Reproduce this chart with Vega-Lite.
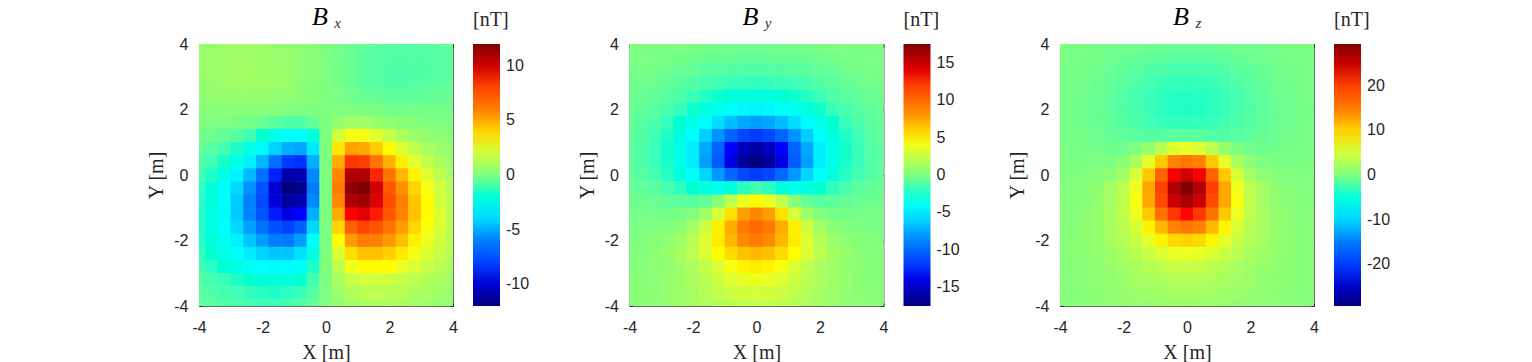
{"$schema":"https://vega.github.io/schema/vega-lite/v6.json","background":"white","padding":{"left":146,"top":3,"right":0,"bottom":0},"bounds":"flush","spacing":176.5,"resolve":{"scale":{"color":"independent"}},"config":{"view":{"stroke":"#6e6e6e","strokeWidth":1},"axis":{"domain":false,"grid":false,"tickColor":"#262626","tickSize":-3,"labelColor":"#262626","labelFont":"Liberation Sans","labelFontSize":16,"titleColor":"#262626","titleFont":"Liberation Serif","titleFontSize":20,"titleFontWeight":"normal"},"legend":{"titleFont":"Liberation Serif","titleFontSize":20,"titleFontWeight":"normal","titleColor":"#262626","labelFont":"Liberation Sans","labelFontSize":16,"labelColor":"#262626"},"title":{"font":"Liberation Serif","fontStyle":"italic","fontWeight":"normal","fontSize":26,"color":"#000000","offset":-20,"anchor":"middle"}},"datasets":{"bx":[
{"x":-4,"y":4,"v":0.5},{"x":-3.6,"y":4,"v":0.6},{"x":-3.2,"y":4,"v":0.7},{"x":-2.8,"y":4,"v":0.8},{"x":-2.4,"y":4,"v":0.8},{"x":-2,"y":4,"v":0.7},{"x":-1.6,"y":4,"v":0.6},{"x":-1.2,"y":4,"v":0.5},{"x":-0.8,"y":4,"v":0.4},{"x":-0.4,"y":4,"v":0.2},{"x":0,"y":4,"v":0},{"x":0.4,"y":4,"v":-0.2},{"x":0.8,"y":4,"v":-0.4},{"x":1.2,"y":4,"v":-0.5},{"x":1.6,"y":4,"v":-0.6},{"x":2,"y":4,"v":-0.7},{"x":2.4,"y":4,"v":-0.8},{"x":2.8,"y":4,"v":-0.8},{"x":3.2,"y":4,"v":-0.7},{"x":3.6,"y":4,"v":-0.6},{"x":4,"y":4,"v":-0.5},
{"x":-4,"y":3.6,"v":0.6},{"x":-3.6,"y":3.6,"v":0.7},{"x":-3.2,"y":3.6,"v":0.8},{"x":-2.8,"y":3.6,"v":0.8},{"x":-2.4,"y":3.6,"v":0.8},{"x":-2,"y":3.6,"v":0.8},{"x":-1.6,"y":3.6,"v":0.7},{"x":-1.2,"y":3.6,"v":0.6},{"x":-0.8,"y":3.6,"v":0.4},{"x":-0.4,"y":3.6,"v":0.2},{"x":0,"y":3.6,"v":0},{"x":0.4,"y":3.6,"v":-0.2},{"x":0.8,"y":3.6,"v":-0.4},{"x":1.2,"y":3.6,"v":-0.6},{"x":1.6,"y":3.6,"v":-0.7},{"x":2,"y":3.6,"v":-0.8},{"x":2.4,"y":3.6,"v":-0.8},{"x":2.8,"y":3.6,"v":-0.8},{"x":3.2,"y":3.6,"v":-0.8},{"x":3.6,"y":3.6,"v":-0.7},{"x":4,"y":3.6,"v":-0.6},
{"x":-4,"y":3.2,"v":0.6},{"x":-3.6,"y":3.2,"v":0.7},{"x":-3.2,"y":3.2,"v":0.8},{"x":-2.8,"y":3.2,"v":0.9},{"x":-2.4,"y":3.2,"v":0.9},{"x":-2,"y":3.2,"v":0.8},{"x":-1.6,"y":3.2,"v":0.7},{"x":-1.2,"y":3.2,"v":0.6},{"x":-0.8,"y":3.2,"v":0.4},{"x":-0.4,"y":3.2,"v":0.2},{"x":0,"y":3.2,"v":0},{"x":0.4,"y":3.2,"v":-0.2},{"x":0.8,"y":3.2,"v":-0.4},{"x":1.2,"y":3.2,"v":-0.6},{"x":1.6,"y":3.2,"v":-0.7},{"x":2,"y":3.2,"v":-0.8},{"x":2.4,"y":3.2,"v":-0.9},{"x":2.8,"y":3.2,"v":-0.9},{"x":3.2,"y":3.2,"v":-0.8},{"x":3.6,"y":3.2,"v":-0.7},{"x":4,"y":3.2,"v":-0.6},
{"x":-4,"y":2.8,"v":0.5},{"x":-3.6,"y":2.8,"v":0.6},{"x":-3.2,"y":2.8,"v":0.7},{"x":-2.8,"y":2.8,"v":0.8},{"x":-2.4,"y":2.8,"v":0.8},{"x":-2,"y":2.8,"v":0.8},{"x":-1.6,"y":2.8,"v":0.7},{"x":-1.2,"y":2.8,"v":0.6},{"x":-0.8,"y":2.8,"v":0.4},{"x":-0.4,"y":2.8,"v":0.2},{"x":0,"y":2.8,"v":0},{"x":0.4,"y":2.8,"v":-0.2},{"x":0.8,"y":2.8,"v":-0.4},{"x":1.2,"y":2.8,"v":-0.6},{"x":1.6,"y":2.8,"v":-0.7},{"x":2,"y":2.8,"v":-0.8},{"x":2.4,"y":2.8,"v":-0.8},{"x":2.8,"y":2.8,"v":-0.8},{"x":3.2,"y":2.8,"v":-0.7},{"x":3.6,"y":2.8,"v":-0.6},{"x":4,"y":2.8,"v":-0.5},
{"x":-4,"y":2.4,"v":0.4},{"x":-3.6,"y":2.4,"v":0.5},{"x":-3.2,"y":2.4,"v":0.5},{"x":-2.8,"y":2.4,"v":0.6},{"x":-2.4,"y":2.4,"v":0.6},{"x":-2,"y":2.4,"v":0.6},{"x":-1.6,"y":2.4,"v":0.5},{"x":-1.2,"y":2.4,"v":0.4},{"x":-0.8,"y":2.4,"v":0.3},{"x":-0.4,"y":2.4,"v":0.1},{"x":0,"y":2.4,"v":0},{"x":0.4,"y":2.4,"v":-0.1},{"x":0.8,"y":2.4,"v":-0.3},{"x":1.2,"y":2.4,"v":-0.4},{"x":1.6,"y":2.4,"v":-0.5},{"x":2,"y":2.4,"v":-0.6},{"x":2.4,"y":2.4,"v":-0.6},{"x":2.8,"y":2.4,"v":-0.6},{"x":3.2,"y":2.4,"v":-0.5},{"x":3.6,"y":2.4,"v":-0.5},{"x":4,"y":2.4,"v":-0.4},
{"x":-4,"y":2,"v":0.2},{"x":-3.6,"y":2,"v":0.2},{"x":-3.2,"y":2,"v":0.2},{"x":-2.8,"y":2,"v":0.2},{"x":-2.4,"y":2,"v":0.2},{"x":-2,"y":2,"v":0.2},{"x":-1.6,"y":2,"v":0.1},{"x":-1.2,"y":2,"v":0.1},{"x":-0.8,"y":2,"v":0},{"x":-0.4,"y":2,"v":0},{"x":0,"y":2,"v":0},{"x":0.4,"y":2,"v":0},{"x":0.8,"y":2,"v":0},{"x":1.2,"y":2,"v":-0.1},{"x":1.6,"y":2,"v":-0.1},{"x":2,"y":2,"v":-0.2},{"x":2.4,"y":2,"v":-0.2},{"x":2.8,"y":2,"v":-0.2},{"x":3.2,"y":2,"v":-0.2},{"x":3.6,"y":2,"v":-0.2},{"x":4,"y":2,"v":-0.2},
{"x":-4,"y":1.6,"v":0},{"x":-3.6,"y":1.6,"v":0},{"x":-3.2,"y":1.6,"v":0},{"x":-2.8,"y":1.6,"v":-0.1},{"x":-2.4,"y":1.6,"v":-0.2},{"x":-2,"y":1.6,"v":-0.4},{"x":-1.6,"y":1.6,"v":-0.6},{"x":-1.2,"y":1.6,"v":-0.8},{"x":-0.8,"y":1.6,"v":-0.8},{"x":-0.4,"y":1.6,"v":-0.5},{"x":0,"y":1.6,"v":0},{"x":0.4,"y":1.6,"v":0.5},{"x":0.8,"y":1.6,"v":0.8},{"x":1.2,"y":1.6,"v":0.8},{"x":1.6,"y":1.6,"v":0.6},{"x":2,"y":1.6,"v":0.4},{"x":2.4,"y":1.6,"v":0.2},{"x":2.8,"y":1.6,"v":0.1},{"x":3.2,"y":1.6,"v":0},{"x":3.6,"y":1.6,"v":0},{"x":4,"y":1.6,"v":0},
{"x":-4,"y":1.2,"v":-0.2},{"x":-3.6,"y":1.2,"v":-0.3},{"x":-3.2,"y":1.2,"v":-0.5},{"x":-2.8,"y":1.2,"v":-0.7},{"x":-2.4,"y":1.2,"v":-1.1},{"x":-2,"y":1.2,"v":-1.7},{"x":-1.6,"y":1.2,"v":-2.3},{"x":-1.2,"y":1.2,"v":-2.8},{"x":-0.8,"y":1.2,"v":-2.8},{"x":-0.4,"y":1.2,"v":-2},{"x":0,"y":1.2,"v":0},{"x":0.4,"y":1.2,"v":2},{"x":0.8,"y":1.2,"v":2.8},{"x":1.2,"y":1.2,"v":2.8},{"x":1.6,"y":1.2,"v":2.3},{"x":2,"y":1.2,"v":1.7},{"x":2.4,"y":1.2,"v":1.1},{"x":2.8,"y":1.2,"v":0.7},{"x":3.2,"y":1.2,"v":0.5},{"x":3.6,"y":1.2,"v":0.3},{"x":4,"y":1.2,"v":0.2},
{"x":-4,"y":0.8,"v":-0.5},{"x":-3.6,"y":0.8,"v":-0.7},{"x":-3.2,"y":0.8,"v":-1},{"x":-2.8,"y":0.8,"v":-1.5},{"x":-2.4,"y":0.8,"v":-2.2},{"x":-2,"y":0.8,"v":-3.1},{"x":-1.6,"y":0.8,"v":-4.2},{"x":-1.2,"y":0.8,"v":-5},{"x":-0.8,"y":0.8,"v":-5.2},{"x":-0.4,"y":0.8,"v":-3.6},{"x":0,"y":0.8,"v":0},{"x":0.4,"y":0.8,"v":3.6},{"x":0.8,"y":0.8,"v":5.2},{"x":1.2,"y":0.8,"v":5},{"x":1.6,"y":0.8,"v":4.2},{"x":2,"y":0.8,"v":3.1},{"x":2.4,"y":0.8,"v":2.2},{"x":2.8,"y":0.8,"v":1.5},{"x":3.2,"y":0.8,"v":1},{"x":3.6,"y":0.8,"v":0.7},{"x":4,"y":0.8,"v":0.5},
{"x":-4,"y":0.4,"v":-0.7},{"x":-3.6,"y":0.4,"v":-1.1},{"x":-3.2,"y":0.4,"v":-1.6},{"x":-2.8,"y":0.4,"v":-2.3},{"x":-2.4,"y":0.4,"v":-3.4},{"x":-2,"y":0.4,"v":-4.8},{"x":-1.6,"y":0.4,"v":-6.5},{"x":-1.2,"y":0.4,"v":-8.2},{"x":-0.8,"y":0.4,"v":-8.4},{"x":-0.4,"y":0.4,"v":-5},{"x":0,"y":0.4,"v":0},{"x":0.4,"y":0.4,"v":5},{"x":0.8,"y":0.4,"v":8.4},{"x":1.2,"y":0.4,"v":8.2},{"x":1.6,"y":0.4,"v":6.5},{"x":2,"y":0.4,"v":4.8},{"x":2.4,"y":0.4,"v":3.4},{"x":2.8,"y":0.4,"v":2.3},{"x":3.2,"y":0.4,"v":1.6},{"x":3.6,"y":0.4,"v":1.1},{"x":4,"y":0.4,"v":0.7},
{"x":-4,"y":0,"v":-1},{"x":-3.6,"y":0,"v":-1.5},{"x":-3.2,"y":0,"v":-2.3},{"x":-2.8,"y":0,"v":-3.3},{"x":-2.4,"y":0,"v":-4.7},{"x":-2,"y":0,"v":-6.5},{"x":-1.6,"y":0,"v":-8.7},{"x":-1.2,"y":0,"v":-10.8},{"x":-0.8,"y":0,"v":-10.8},{"x":-0.4,"y":0,"v":-5.8},{"x":0,"y":0,"v":0},{"x":0.4,"y":0,"v":5.8},{"x":0.8,"y":0,"v":10.8},{"x":1.2,"y":0,"v":10.8},{"x":1.6,"y":0,"v":8.7},{"x":2,"y":0,"v":6.5},{"x":2.4,"y":0,"v":4.7},{"x":2.8,"y":0,"v":3.3},{"x":3.2,"y":0,"v":2.3},{"x":3.6,"y":0,"v":1.5},{"x":4,"y":0,"v":1},
{"x":-4,"y":-0.4,"v":-1.3},{"x":-3.6,"y":-0.4,"v":-1.9},{"x":-3.2,"y":-0.4,"v":-2.8},{"x":-2.8,"y":-0.4,"v":-4},{"x":-2.4,"y":-0.4,"v":-5.6},{"x":-2,"y":-0.4,"v":-7.5},{"x":-1.6,"y":-0.4,"v":-10},{"x":-1.2,"y":-0.4,"v":-12},{"x":-0.8,"y":-0.4,"v":-11.6},{"x":-0.4,"y":-0.4,"v":-6.2},{"x":0,"y":-0.4,"v":0},{"x":0.4,"y":-0.4,"v":6.2},{"x":0.8,"y":-0.4,"v":11.6},{"x":1.2,"y":-0.4,"v":12},{"x":1.6,"y":-0.4,"v":10},{"x":2,"y":-0.4,"v":7.5},{"x":2.4,"y":-0.4,"v":5.6},{"x":2.8,"y":-0.4,"v":4},{"x":3.2,"y":-0.4,"v":2.8},{"x":3.6,"y":-0.4,"v":1.9},{"x":4,"y":-0.4,"v":1.3},
{"x":-4,"y":-0.8,"v":-1.4},{"x":-3.6,"y":-0.8,"v":-2},{"x":-3.2,"y":-0.8,"v":-3},{"x":-2.8,"y":-0.8,"v":-4.4},{"x":-2.4,"y":-0.8,"v":-6},{"x":-2,"y":-0.8,"v":-7.8},{"x":-1.6,"y":-0.8,"v":-9.8},{"x":-1.2,"y":-0.8,"v":-11.2},{"x":-0.8,"y":-0.8,"v":-10.8},{"x":-0.4,"y":-0.8,"v":-5.8},{"x":0,"y":-0.8,"v":0},{"x":0.4,"y":-0.8,"v":5.8},{"x":0.8,"y":-0.8,"v":10.8},{"x":1.2,"y":-0.8,"v":11.2},{"x":1.6,"y":-0.8,"v":9.8},{"x":2,"y":-0.8,"v":7.8},{"x":2.4,"y":-0.8,"v":6},{"x":2.8,"y":-0.8,"v":4.4},{"x":3.2,"y":-0.8,"v":3},{"x":3.6,"y":-0.8,"v":2},{"x":4,"y":-0.8,"v":1.4},
{"x":-4,"y":-1.2,"v":-1.5},{"x":-3.6,"y":-1.2,"v":-2.2},{"x":-3.2,"y":-1.2,"v":-3.1},{"x":-2.8,"y":-1.2,"v":-4.4},{"x":-2.4,"y":-1.2,"v":-5.9},{"x":-2,"y":-1.2,"v":-7.5},{"x":-1.6,"y":-1.2,"v":-8.8},{"x":-1.2,"y":-1.2,"v":-9.6},{"x":-0.8,"y":-1.2,"v":-9},{"x":-0.4,"y":-1.2,"v":-5},{"x":0,"y":-1.2,"v":0},{"x":0.4,"y":-1.2,"v":5},{"x":0.8,"y":-1.2,"v":9},{"x":1.2,"y":-1.2,"v":9.6},{"x":1.6,"y":-1.2,"v":8.8},{"x":2,"y":-1.2,"v":7.5},{"x":2.4,"y":-1.2,"v":5.9},{"x":2.8,"y":-1.2,"v":4.4},{"x":3.2,"y":-1.2,"v":3.1},{"x":3.6,"y":-1.2,"v":2.2},{"x":4,"y":-1.2,"v":1.5},
{"x":-4,"y":-1.6,"v":-1.5},{"x":-3.6,"y":-1.6,"v":-2.1},{"x":-3.2,"y":-1.6,"v":-2.9},{"x":-2.8,"y":-1.6,"v":-4},{"x":-2.4,"y":-1.6,"v":-5.3},{"x":-2,"y":-1.6,"v":-6.5},{"x":-1.6,"y":-1.6,"v":-7.6},{"x":-1.2,"y":-1.6,"v":-8},{"x":-0.8,"y":-1.6,"v":-7.2},{"x":-0.4,"y":-1.6,"v":-4},{"x":0,"y":-1.6,"v":0},{"x":0.4,"y":-1.6,"v":4},{"x":0.8,"y":-1.6,"v":7.2},{"x":1.2,"y":-1.6,"v":8},{"x":1.6,"y":-1.6,"v":7.6},{"x":2,"y":-1.6,"v":6.5},{"x":2.4,"y":-1.6,"v":5.3},{"x":2.8,"y":-1.6,"v":4},{"x":3.2,"y":-1.6,"v":2.9},{"x":3.6,"y":-1.6,"v":2.1},{"x":4,"y":-1.6,"v":1.5},
{"x":-4,"y":-2,"v":-1.4},{"x":-3.6,"y":-2,"v":-1.9},{"x":-3.2,"y":-2,"v":-2.6},{"x":-2.8,"y":-2,"v":-3.4},{"x":-2.4,"y":-2,"v":-4.5},{"x":-2,"y":-2,"v":-5.4},{"x":-1.6,"y":-2,"v":-6.1},{"x":-1.2,"y":-2,"v":-6.2},{"x":-0.8,"y":-2,"v":-5.4},{"x":-0.4,"y":-2,"v":-3},{"x":0,"y":-2,"v":0},{"x":0.4,"y":-2,"v":3},{"x":0.8,"y":-2,"v":5.4},{"x":1.2,"y":-2,"v":6.2},{"x":1.6,"y":-2,"v":6.1},{"x":2,"y":-2,"v":5.4},{"x":2.4,"y":-2,"v":4.5},{"x":2.8,"y":-2,"v":3.4},{"x":3.2,"y":-2,"v":2.6},{"x":3.6,"y":-2,"v":1.9},{"x":4,"y":-2,"v":1.4},
{"x":-4,"y":-2.4,"v":-1.2},{"x":-3.6,"y":-2.4,"v":-1.7},{"x":-3.2,"y":-2.4,"v":-2.2},{"x":-2.8,"y":-2.4,"v":-2.8},{"x":-2.4,"y":-2.4,"v":-3.5},{"x":-2,"y":-2.4,"v":-4.1},{"x":-1.6,"y":-2.4,"v":-4.5},{"x":-1.2,"y":-2.4,"v":-4.5},{"x":-0.8,"y":-2.4,"v":-3.8},{"x":-0.4,"y":-2.4,"v":-2.2},{"x":0,"y":-2.4,"v":0},{"x":0.4,"y":-2.4,"v":2.2},{"x":0.8,"y":-2.4,"v":3.8},{"x":1.2,"y":-2.4,"v":4.5},{"x":1.6,"y":-2.4,"v":4.5},{"x":2,"y":-2.4,"v":4.1},{"x":2.4,"y":-2.4,"v":3.5},{"x":2.8,"y":-2.4,"v":2.8},{"x":3.2,"y":-2.4,"v":2.2},{"x":3.6,"y":-2.4,"v":1.7},{"x":4,"y":-2.4,"v":1.2},
{"x":-4,"y":-2.8,"v":-1},{"x":-3.6,"y":-2.8,"v":-1.4},{"x":-3.2,"y":-2.8,"v":-1.8},{"x":-2.8,"y":-2.8,"v":-2.2},{"x":-2.4,"y":-2.8,"v":-2.6},{"x":-2,"y":-2.8,"v":-3},{"x":-1.6,"y":-2.8,"v":-3.1},{"x":-1.2,"y":-2.8,"v":-3.1},{"x":-0.8,"y":-2.8,"v":-2.7},{"x":-0.4,"y":-2.8,"v":-1.5},{"x":0,"y":-2.8,"v":0},{"x":0.4,"y":-2.8,"v":1.5},{"x":0.8,"y":-2.8,"v":2.7},{"x":1.2,"y":-2.8,"v":3.1},{"x":1.6,"y":-2.8,"v":3.1},{"x":2,"y":-2.8,"v":3},{"x":2.4,"y":-2.8,"v":2.6},{"x":2.8,"y":-2.8,"v":2.2},{"x":3.2,"y":-2.8,"v":1.8},{"x":3.6,"y":-2.8,"v":1.4},{"x":4,"y":-2.8,"v":1},
{"x":-4,"y":-3.2,"v":-0.8},{"x":-3.6,"y":-3.2,"v":-1},{"x":-3.2,"y":-3.2,"v":-1.2},{"x":-2.8,"y":-3.2,"v":-1.5},{"x":-2.4,"y":-3.2,"v":-1.7},{"x":-2,"y":-3.2,"v":-1.9},{"x":-1.6,"y":-3.2,"v":-2},{"x":-1.2,"y":-3.2,"v":-2},{"x":-0.8,"y":-3.2,"v":-1.7},{"x":-0.4,"y":-3.2,"v":-1},{"x":0,"y":-3.2,"v":0},{"x":0.4,"y":-3.2,"v":1},{"x":0.8,"y":-3.2,"v":1.7},{"x":1.2,"y":-3.2,"v":2},{"x":1.6,"y":-3.2,"v":2},{"x":2,"y":-3.2,"v":1.9},{"x":2.4,"y":-3.2,"v":1.7},{"x":2.8,"y":-3.2,"v":1.5},{"x":3.2,"y":-3.2,"v":1.2},{"x":3.6,"y":-3.2,"v":1},{"x":4,"y":-3.2,"v":0.8},
{"x":-4,"y":-3.6,"v":-0.6},{"x":-3.6,"y":-3.6,"v":-0.8},{"x":-3.2,"y":-3.6,"v":-1},{"x":-2.8,"y":-3.6,"v":-1.1},{"x":-2.4,"y":-3.6,"v":-1.3},{"x":-2,"y":-3.6,"v":-1.4},{"x":-1.6,"y":-3.6,"v":-1.5},{"x":-1.2,"y":-3.6,"v":-1.4},{"x":-0.8,"y":-3.6,"v":-1.2},{"x":-0.4,"y":-3.6,"v":-0.7},{"x":0,"y":-3.6,"v":0},{"x":0.4,"y":-3.6,"v":0.7},{"x":0.8,"y":-3.6,"v":1.2},{"x":1.2,"y":-3.6,"v":1.4},{"x":1.6,"y":-3.6,"v":1.5},{"x":2,"y":-3.6,"v":1.4},{"x":2.4,"y":-3.6,"v":1.3},{"x":2.8,"y":-3.6,"v":1.1},{"x":3.2,"y":-3.6,"v":1},{"x":3.6,"y":-3.6,"v":0.8},{"x":4,"y":-3.6,"v":0.6},
{"x":-4,"y":-4,"v":-0.5},{"x":-3.6,"y":-4,"v":-0.6},{"x":-3.2,"y":-4,"v":-0.8},{"x":-2.8,"y":-4,"v":-0.9},{"x":-2.4,"y":-4,"v":-1},{"x":-2,"y":-4,"v":-1.1},{"x":-1.6,"y":-4,"v":-1.1},{"x":-1.2,"y":-4,"v":-1},{"x":-0.8,"y":-4,"v":-0.8},{"x":-0.4,"y":-4,"v":-0.5},{"x":0,"y":-4,"v":0},{"x":0.4,"y":-4,"v":0.5},{"x":0.8,"y":-4,"v":0.8},{"x":1.2,"y":-4,"v":1},{"x":1.6,"y":-4,"v":1.1},{"x":2,"y":-4,"v":1.1},{"x":2.4,"y":-4,"v":1},{"x":2.8,"y":-4,"v":0.9},{"x":3.2,"y":-4,"v":0.8},{"x":3.6,"y":-4,"v":0.6},{"x":4,"y":-4,"v":0.5}
],"by":[
{"x":-4,"y":4,"v":0},{"x":-3.6,"y":4,"v":0},{"x":-3.2,"y":4,"v":0},{"x":-2.8,"y":4,"v":0},{"x":-2.4,"y":4,"v":0},{"x":-2,"y":4,"v":-0.1},{"x":-1.6,"y":4,"v":-0.2},{"x":-1.2,"y":4,"v":-0.2},{"x":-0.8,"y":4,"v":-0.3},{"x":-0.4,"y":4,"v":-0.3},{"x":0,"y":4,"v":-0.3},{"x":0.4,"y":4,"v":-0.3},{"x":0.8,"y":4,"v":-0.3},{"x":1.2,"y":4,"v":-0.2},{"x":1.6,"y":4,"v":-0.2},{"x":2,"y":4,"v":-0.1},{"x":2.4,"y":4,"v":0},{"x":2.8,"y":4,"v":0},{"x":3.2,"y":4,"v":0},{"x":3.6,"y":4,"v":0},{"x":4,"y":4,"v":0},
{"x":-4,"y":3.6,"v":-0.1},{"x":-3.6,"y":3.6,"v":-0.1},{"x":-3.2,"y":3.6,"v":-0.2},{"x":-2.8,"y":3.6,"v":-0.2},{"x":-2.4,"y":3.6,"v":-0.3},{"x":-2,"y":3.6,"v":-0.4},{"x":-1.6,"y":3.6,"v":-0.5},{"x":-1.2,"y":3.6,"v":-0.6},{"x":-0.8,"y":3.6,"v":-0.6},{"x":-0.4,"y":3.6,"v":-0.7},{"x":0,"y":3.6,"v":-0.7},{"x":0.4,"y":3.6,"v":-0.7},{"x":0.8,"y":3.6,"v":-0.6},{"x":1.2,"y":3.6,"v":-0.6},{"x":1.6,"y":3.6,"v":-0.5},{"x":2,"y":3.6,"v":-0.4},{"x":2.4,"y":3.6,"v":-0.3},{"x":2.8,"y":3.6,"v":-0.2},{"x":3.2,"y":3.6,"v":-0.2},{"x":3.6,"y":3.6,"v":-0.1},{"x":4,"y":3.6,"v":-0.1},
{"x":-4,"y":3.2,"v":-0.2},{"x":-3.6,"y":3.2,"v":-0.2},{"x":-3.2,"y":3.2,"v":-0.3},{"x":-2.8,"y":3.2,"v":-0.4},{"x":-2.4,"y":3.2,"v":-0.6},{"x":-2,"y":3.2,"v":-0.7},{"x":-1.6,"y":3.2,"v":-0.9},{"x":-1.2,"y":3.2,"v":-1},{"x":-0.8,"y":3.2,"v":-1.1},{"x":-0.4,"y":3.2,"v":-1.2},{"x":0,"y":3.2,"v":-1.2},{"x":0.4,"y":3.2,"v":-1.2},{"x":0.8,"y":3.2,"v":-1.1},{"x":1.2,"y":3.2,"v":-1},{"x":1.6,"y":3.2,"v":-0.9},{"x":2,"y":3.2,"v":-0.7},{"x":2.4,"y":3.2,"v":-0.6},{"x":2.8,"y":3.2,"v":-0.4},{"x":3.2,"y":3.2,"v":-0.3},{"x":3.6,"y":3.2,"v":-0.2},{"x":4,"y":3.2,"v":-0.2},
{"x":-4,"y":2.8,"v":-0.3},{"x":-3.6,"y":2.8,"v":-0.4},{"x":-3.2,"y":2.8,"v":-0.5},{"x":-2.8,"y":2.8,"v":-0.7},{"x":-2.4,"y":2.8,"v":-0.9},{"x":-2,"y":2.8,"v":-1.1},{"x":-1.6,"y":2.8,"v":-1.4},{"x":-1.2,"y":2.8,"v":-1.6},{"x":-0.8,"y":2.8,"v":-1.7},{"x":-0.4,"y":2.8,"v":-1.8},{"x":0,"y":2.8,"v":-1.9},{"x":0.4,"y":2.8,"v":-1.8},{"x":0.8,"y":2.8,"v":-1.7},{"x":1.2,"y":2.8,"v":-1.6},{"x":1.6,"y":2.8,"v":-1.4},{"x":2,"y":2.8,"v":-1.1},{"x":2.4,"y":2.8,"v":-0.9},{"x":2.8,"y":2.8,"v":-0.7},{"x":3.2,"y":2.8,"v":-0.5},{"x":3.6,"y":2.8,"v":-0.4},{"x":4,"y":2.8,"v":-0.3},
{"x":-4,"y":2.4,"v":-0.4},{"x":-3.6,"y":2.4,"v":-0.6},{"x":-3.2,"y":2.4,"v":-0.8},{"x":-2.8,"y":2.4,"v":-1},{"x":-2.4,"y":2.4,"v":-1.3},{"x":-2,"y":2.4,"v":-1.7},{"x":-1.6,"y":2.4,"v":-2.1},{"x":-1.2,"y":2.4,"v":-2.4},{"x":-0.8,"y":2.4,"v":-2.7},{"x":-0.4,"y":2.4,"v":-2.9},{"x":0,"y":2.4,"v":-3},{"x":0.4,"y":2.4,"v":-2.9},{"x":0.8,"y":2.4,"v":-2.7},{"x":1.2,"y":2.4,"v":-2.4},{"x":1.6,"y":2.4,"v":-2.1},{"x":2,"y":2.4,"v":-1.7},{"x":2.4,"y":2.4,"v":-1.3},{"x":2.8,"y":2.4,"v":-1},{"x":3.2,"y":2.4,"v":-0.8},{"x":3.6,"y":2.4,"v":-0.6},{"x":4,"y":2.4,"v":-0.4},
{"x":-4,"y":2,"v":-0.6},{"x":-3.6,"y":2,"v":-0.8},{"x":-3.2,"y":2,"v":-1},{"x":-2.8,"y":2,"v":-1.4},{"x":-2.4,"y":2,"v":-1.8},{"x":-2,"y":2,"v":-2.4},{"x":-1.6,"y":2,"v":-3},{"x":-1.2,"y":2,"v":-3.6},{"x":-0.8,"y":2,"v":-4.2},{"x":-0.4,"y":2,"v":-4.6},{"x":0,"y":2,"v":-4.8},{"x":0.4,"y":2,"v":-4.6},{"x":0.8,"y":2,"v":-4.2},{"x":1.2,"y":2,"v":-3.6},{"x":1.6,"y":2,"v":-3},{"x":2,"y":2,"v":-2.4},{"x":2.4,"y":2,"v":-1.8},{"x":2.8,"y":2,"v":-1.4},{"x":3.2,"y":2,"v":-1},{"x":3.6,"y":2,"v":-0.8},{"x":4,"y":2,"v":-0.6},
{"x":-4,"y":1.6,"v":-0.7},{"x":-3.6,"y":1.6,"v":-1},{"x":-3.2,"y":1.6,"v":-1.3},{"x":-2.8,"y":1.6,"v":-1.8},{"x":-2.4,"y":1.6,"v":-2.5},{"x":-2,"y":1.6,"v":-3.4},{"x":-1.6,"y":1.6,"v":-4.5},{"x":-1.2,"y":1.6,"v":-5.7},{"x":-0.8,"y":1.6,"v":-6.8},{"x":-0.4,"y":1.6,"v":-7.5},{"x":0,"y":1.6,"v":-7.8},{"x":0.4,"y":1.6,"v":-7.5},{"x":0.8,"y":1.6,"v":-6.8},{"x":1.2,"y":1.6,"v":-5.7},{"x":1.6,"y":1.6,"v":-4.5},{"x":2,"y":1.6,"v":-3.4},{"x":2.4,"y":1.6,"v":-2.5},{"x":2.8,"y":1.6,"v":-1.8},{"x":3.2,"y":1.6,"v":-1.3},{"x":3.6,"y":1.6,"v":-1},{"x":4,"y":1.6,"v":-0.7},
{"x":-4,"y":1.2,"v":-0.8},{"x":-3.6,"y":1.2,"v":-1.1},{"x":-3.2,"y":1.2,"v":-1.6},{"x":-2.8,"y":1.2,"v":-2.2},{"x":-2.4,"y":1.2,"v":-3.1},{"x":-2,"y":1.2,"v":-4.4},{"x":-1.6,"y":1.2,"v":-6.2},{"x":-1.2,"y":1.2,"v":-8.2},{"x":-0.8,"y":1.2,"v":-10.2},{"x":-0.4,"y":1.2,"v":-11.5},{"x":0,"y":1.2,"v":-12},{"x":0.4,"y":1.2,"v":-11.5},{"x":0.8,"y":1.2,"v":-10.2},{"x":1.2,"y":1.2,"v":-8.2},{"x":1.6,"y":1.2,"v":-6.2},{"x":2,"y":1.2,"v":-4.4},{"x":2.4,"y":1.2,"v":-3.1},{"x":2.8,"y":1.2,"v":-2.2},{"x":3.2,"y":1.2,"v":-1.6},{"x":3.6,"y":1.2,"v":-1.1},{"x":4,"y":1.2,"v":-0.8},
{"x":-4,"y":0.8,"v":-0.9},{"x":-3.6,"y":0.8,"v":-1.2},{"x":-3.2,"y":0.8,"v":-1.7},{"x":-2.8,"y":0.8,"v":-2.4},{"x":-2.4,"y":0.8,"v":-3.4},{"x":-2,"y":0.8,"v":-5},{"x":-1.6,"y":0.8,"v":-7.5},{"x":-1.2,"y":0.8,"v":-10.2},{"x":-0.8,"y":0.8,"v":-13.2},{"x":-0.4,"y":0.8,"v":-15.3},{"x":0,"y":0.8,"v":-16},{"x":0.4,"y":0.8,"v":-15.3},{"x":0.8,"y":0.8,"v":-13.2},{"x":1.2,"y":0.8,"v":-10.2},{"x":1.6,"y":0.8,"v":-7.5},{"x":2,"y":0.8,"v":-5},{"x":2.4,"y":0.8,"v":-3.4},{"x":2.8,"y":0.8,"v":-2.4},{"x":3.2,"y":0.8,"v":-1.7},{"x":3.6,"y":0.8,"v":-1.2},{"x":4,"y":0.8,"v":-0.9},
{"x":-4,"y":0.4,"v":-0.9},{"x":-3.6,"y":0.4,"v":-1.2},{"x":-3.2,"y":0.4,"v":-1.7},{"x":-2.8,"y":0.4,"v":-2.3},{"x":-2.4,"y":0.4,"v":-3.3},{"x":-2,"y":0.4,"v":-5},{"x":-1.6,"y":0.4,"v":-7.8},{"x":-1.2,"y":0.4,"v":-10.7},{"x":-0.8,"y":0.4,"v":-14},{"x":-0.4,"y":0.4,"v":-16.5},{"x":0,"y":0.4,"v":-17.4},{"x":0.4,"y":0.4,"v":-16.5},{"x":0.8,"y":0.4,"v":-14},{"x":1.2,"y":0.4,"v":-10.7},{"x":1.6,"y":0.4,"v":-7.8},{"x":2,"y":0.4,"v":-5},{"x":2.4,"y":0.4,"v":-3.3},{"x":2.8,"y":0.4,"v":-2.3},{"x":3.2,"y":0.4,"v":-1.7},{"x":3.6,"y":0.4,"v":-1.2},{"x":4,"y":0.4,"v":-0.9},
{"x":-4,"y":0,"v":-0.8},{"x":-3.6,"y":0,"v":-1.1},{"x":-3.2,"y":0,"v":-1.5},{"x":-2.8,"y":0,"v":-2.1},{"x":-2.4,"y":0,"v":-3},{"x":-2,"y":0,"v":-4.2},{"x":-1.6,"y":0,"v":-6},{"x":-1.2,"y":0,"v":-8},{"x":-0.8,"y":0,"v":-10},{"x":-0.4,"y":0,"v":-11.5},{"x":0,"y":0,"v":-12},{"x":0.4,"y":0,"v":-11.5},{"x":0.8,"y":0,"v":-10},{"x":1.2,"y":0,"v":-8},{"x":1.6,"y":0,"v":-6},{"x":2,"y":0,"v":-4.2},{"x":2.4,"y":0,"v":-3},{"x":2.8,"y":0,"v":-2.1},{"x":3.2,"y":0,"v":-1.5},{"x":3.6,"y":0,"v":-1.1},{"x":4,"y":0,"v":-0.8},
{"x":-4,"y":-0.4,"v":-0.6},{"x":-3.6,"y":-0.4,"v":-0.8},{"x":-3.2,"y":-0.4,"v":-1},{"x":-2.8,"y":-0.4,"v":-1.4},{"x":-2.4,"y":-0.4,"v":-1.9},{"x":-2,"y":-0.4,"v":-2.5},{"x":-1.6,"y":-0.4,"v":-3.1},{"x":-1.2,"y":-0.4,"v":-3.6},{"x":-0.8,"y":-0.4,"v":-3},{"x":-0.4,"y":-0.4,"v":-2},{"x":0,"y":-0.4,"v":-1.5},{"x":0.4,"y":-0.4,"v":-2},{"x":0.8,"y":-0.4,"v":-3},{"x":1.2,"y":-0.4,"v":-3.6},{"x":1.6,"y":-0.4,"v":-3.1},{"x":2,"y":-0.4,"v":-2.5},{"x":2.4,"y":-0.4,"v":-1.9},{"x":2.8,"y":-0.4,"v":-1.4},{"x":3.2,"y":-0.4,"v":-1},{"x":3.6,"y":-0.4,"v":-0.8},{"x":4,"y":-0.4,"v":-0.6},
{"x":-4,"y":-0.8,"v":-0.4},{"x":-3.6,"y":-0.8,"v":-0.5},{"x":-3.2,"y":-0.8,"v":-0.6},{"x":-2.8,"y":-0.8,"v":-0.8},{"x":-2.4,"y":-0.8,"v":-0.9},{"x":-2,"y":-0.8,"v":-1},{"x":-1.6,"y":-0.8,"v":-0.7},{"x":-1.2,"y":-0.8,"v":0.3},{"x":-0.8,"y":-0.8,"v":2.2},{"x":-0.4,"y":-0.8,"v":3.8},{"x":0,"y":-0.8,"v":4.5},{"x":0.4,"y":-0.8,"v":3.8},{"x":0.8,"y":-0.8,"v":2.2},{"x":1.2,"y":-0.8,"v":0.3},{"x":1.6,"y":-0.8,"v":-0.7},{"x":2,"y":-0.8,"v":-1},{"x":2.4,"y":-0.8,"v":-0.9},{"x":2.8,"y":-0.8,"v":-0.8},{"x":3.2,"y":-0.8,"v":-0.6},{"x":3.6,"y":-0.8,"v":-0.5},{"x":4,"y":-0.8,"v":-0.4},
{"x":-4,"y":-1.2,"v":-0.2},{"x":-3.6,"y":-1.2,"v":-0.3},{"x":-3.2,"y":-1.2,"v":-0.3},{"x":-2.8,"y":-1.2,"v":-0.3},{"x":-2.4,"y":-1.2,"v":-0.2},{"x":-2,"y":-1.2,"v":0.1},{"x":-1.6,"y":-1.2,"v":1.1},{"x":-1.2,"y":-1.2,"v":3},{"x":-0.8,"y":-1.2,"v":5.4},{"x":-0.4,"y":-1.2,"v":7.7},{"x":0,"y":-1.2,"v":8.5},{"x":0.4,"y":-1.2,"v":7.7},{"x":0.8,"y":-1.2,"v":5.4},{"x":1.2,"y":-1.2,"v":3},{"x":1.6,"y":-1.2,"v":1.1},{"x":2,"y":-1.2,"v":0.1},{"x":2.4,"y":-1.2,"v":-0.2},{"x":2.8,"y":-1.2,"v":-0.3},{"x":3.2,"y":-1.2,"v":-0.3},{"x":3.6,"y":-1.2,"v":-0.3},{"x":4,"y":-1.2,"v":-0.2},
{"x":-4,"y":-1.6,"v":-0.1},{"x":-3.6,"y":-1.6,"v":-0.1},{"x":-3.2,"y":-1.6,"v":0},{"x":-2.8,"y":-1.6,"v":0.1},{"x":-2.4,"y":-1.6,"v":0.5},{"x":-2,"y":-1.6,"v":1.3},{"x":-1.6,"y":-1.6,"v":2.8},{"x":-1.2,"y":-1.6,"v":4.9},{"x":-0.8,"y":-1.6,"v":7.2},{"x":-0.4,"y":-1.6,"v":9.2},{"x":0,"y":-1.6,"v":10},{"x":0.4,"y":-1.6,"v":9.2},{"x":0.8,"y":-1.6,"v":7.2},{"x":1.2,"y":-1.6,"v":4.9},{"x":1.6,"y":-1.6,"v":2.8},{"x":2,"y":-1.6,"v":1.3},{"x":2.4,"y":-1.6,"v":0.5},{"x":2.8,"y":-1.6,"v":0.1},{"x":3.2,"y":-1.6,"v":0},{"x":3.6,"y":-1.6,"v":-0.1},{"x":4,"y":-1.6,"v":-0.1},
{"x":-4,"y":-2,"v":0},{"x":-3.6,"y":-2,"v":0.1},{"x":-3.2,"y":-2,"v":0.3},{"x":-2.8,"y":-2,"v":0.6},{"x":-2.4,"y":-2,"v":1.1},{"x":-2,"y":-2,"v":2},{"x":-1.6,"y":-2,"v":3.3},{"x":-1.2,"y":-2,"v":5},{"x":-0.8,"y":-2,"v":6.8},{"x":-0.4,"y":-2,"v":8.4},{"x":0,"y":-2,"v":9},{"x":0.4,"y":-2,"v":8.4},{"x":0.8,"y":-2,"v":6.8},{"x":1.2,"y":-2,"v":5},{"x":1.6,"y":-2,"v":3.3},{"x":2,"y":-2,"v":2},{"x":2.4,"y":-2,"v":1.1},{"x":2.8,"y":-2,"v":0.6},{"x":3.2,"y":-2,"v":0.3},{"x":3.6,"y":-2,"v":0.1},{"x":4,"y":-2,"v":0},
{"x":-4,"y":-2.4,"v":0.1},{"x":-3.6,"y":-2.4,"v":0.2},{"x":-3.2,"y":-2.4,"v":0.5},{"x":-2.8,"y":-2.4,"v":0.9},{"x":-2.4,"y":-2.4,"v":1.4},{"x":-2,"y":-2.4,"v":2.2},{"x":-1.6,"y":-2.4,"v":3.2},{"x":-1.2,"y":-2.4,"v":4.4},{"x":-0.8,"y":-2.4,"v":5.6},{"x":-0.4,"y":-2.4,"v":6.5},{"x":0,"y":-2.4,"v":6.8},{"x":0.4,"y":-2.4,"v":6.5},{"x":0.8,"y":-2.4,"v":5.6},{"x":1.2,"y":-2.4,"v":4.4},{"x":1.6,"y":-2.4,"v":3.2},{"x":2,"y":-2.4,"v":2.2},{"x":2.4,"y":-2.4,"v":1.4},{"x":2.8,"y":-2.4,"v":0.9},{"x":3.2,"y":-2.4,"v":0.5},{"x":3.6,"y":-2.4,"v":0.2},{"x":4,"y":-2.4,"v":0.1},
{"x":-4,"y":-2.8,"v":0.2},{"x":-3.6,"y":-2.8,"v":0.3},{"x":-3.2,"y":-2.8,"v":0.5},{"x":-2.8,"y":-2.8,"v":0.7},{"x":-2.4,"y":-2.8,"v":1.1},{"x":-2,"y":-2.8,"v":1.6},{"x":-1.6,"y":-2.8,"v":2.3},{"x":-1.2,"y":-2.8,"v":3.2},{"x":-0.8,"y":-2.8,"v":4.1},{"x":-0.4,"y":-2.8,"v":4.8},{"x":0,"y":-2.8,"v":5},{"x":0.4,"y":-2.8,"v":4.8},{"x":0.8,"y":-2.8,"v":4.1},{"x":1.2,"y":-2.8,"v":3.2},{"x":1.6,"y":-2.8,"v":2.3},{"x":2,"y":-2.8,"v":1.6},{"x":2.4,"y":-2.8,"v":1.1},{"x":2.8,"y":-2.8,"v":0.7},{"x":3.2,"y":-2.8,"v":0.5},{"x":3.6,"y":-2.8,"v":0.3},{"x":4,"y":-2.8,"v":0.2},
{"x":-4,"y":-3.2,"v":0.2},{"x":-3.6,"y":-3.2,"v":0.3},{"x":-3.2,"y":-3.2,"v":0.5},{"x":-2.8,"y":-3.2,"v":0.8},{"x":-2.4,"y":-3.2,"v":1.1},{"x":-2,"y":-3.2,"v":1.6},{"x":-1.6,"y":-3.2,"v":2.1},{"x":-1.2,"y":-3.2,"v":2.7},{"x":-0.8,"y":-3.2,"v":3.3},{"x":-0.4,"y":-3.2,"v":3.7},{"x":0,"y":-3.2,"v":3.9},{"x":0.4,"y":-3.2,"v":3.7},{"x":0.8,"y":-3.2,"v":3.3},{"x":1.2,"y":-3.2,"v":2.7},{"x":1.6,"y":-3.2,"v":2.1},{"x":2,"y":-3.2,"v":1.6},{"x":2.4,"y":-3.2,"v":1.1},{"x":2.8,"y":-3.2,"v":0.8},{"x":3.2,"y":-3.2,"v":0.5},{"x":3.6,"y":-3.2,"v":0.3},{"x":4,"y":-3.2,"v":0.2},
{"x":-4,"y":-3.6,"v":0.3},{"x":-3.6,"y":-3.6,"v":0.4},{"x":-3.2,"y":-3.6,"v":0.5},{"x":-2.8,"y":-3.6,"v":0.8},{"x":-2.4,"y":-3.6,"v":1.1},{"x":-2,"y":-3.6,"v":1.4},{"x":-1.6,"y":-3.6,"v":1.9},{"x":-1.2,"y":-3.6,"v":2.3},{"x":-0.8,"y":-3.6,"v":2.7},{"x":-0.4,"y":-3.6,"v":2.9},{"x":0,"y":-3.6,"v":3},{"x":0.4,"y":-3.6,"v":2.9},{"x":0.8,"y":-3.6,"v":2.7},{"x":1.2,"y":-3.6,"v":2.3},{"x":1.6,"y":-3.6,"v":1.9},{"x":2,"y":-3.6,"v":1.4},{"x":2.4,"y":-3.6,"v":1.1},{"x":2.8,"y":-3.6,"v":0.8},{"x":3.2,"y":-3.6,"v":0.5},{"x":3.6,"y":-3.6,"v":0.4},{"x":4,"y":-3.6,"v":0.3},
{"x":-4,"y":-4,"v":0.3},{"x":-3.6,"y":-4,"v":0.4},{"x":-3.2,"y":-4,"v":0.5},{"x":-2.8,"y":-4,"v":0.7},{"x":-2.4,"y":-4,"v":1},{"x":-2,"y":-4,"v":1.3},{"x":-1.6,"y":-4,"v":1.6},{"x":-1.2,"y":-4,"v":1.9},{"x":-0.8,"y":-4,"v":2.1},{"x":-0.4,"y":-4,"v":2.3},{"x":0,"y":-4,"v":2.4},{"x":0.4,"y":-4,"v":2.3},{"x":0.8,"y":-4,"v":2.1},{"x":1.2,"y":-4,"v":1.9},{"x":1.6,"y":-4,"v":1.6},{"x":2,"y":-4,"v":1.3},{"x":2.4,"y":-4,"v":1},{"x":2.8,"y":-4,"v":0.7},{"x":3.2,"y":-4,"v":0.5},{"x":3.6,"y":-4,"v":0.4},{"x":4,"y":-4,"v":0.3}
],"bz":[
{"x":-4,"y":4,"v":-0.1},{"x":-3.6,"y":4,"v":-0.2},{"x":-3.2,"y":4,"v":-0.2},{"x":-2.8,"y":4,"v":-0.3},{"x":-2.4,"y":4,"v":-0.4},{"x":-2,"y":4,"v":-0.5},{"x":-1.6,"y":4,"v":-0.6},{"x":-1.2,"y":4,"v":-0.8},{"x":-0.8,"y":4,"v":-0.9},{"x":-0.4,"y":4,"v":-1},{"x":0,"y":4,"v":-1},{"x":0.4,"y":4,"v":-1},{"x":0.8,"y":4,"v":-0.9},{"x":1.2,"y":4,"v":-0.8},{"x":1.6,"y":4,"v":-0.6},{"x":2,"y":4,"v":-0.5},{"x":2.4,"y":4,"v":-0.4},{"x":2.8,"y":4,"v":-0.3},{"x":3.2,"y":4,"v":-0.2},{"x":3.6,"y":4,"v":-0.2},{"x":4,"y":4,"v":-0.1},
{"x":-4,"y":3.6,"v":-0.2},{"x":-3.6,"y":3.6,"v":-0.3},{"x":-3.2,"y":3.6,"v":-0.4},{"x":-2.8,"y":3.6,"v":-0.5},{"x":-2.4,"y":3.6,"v":-0.7},{"x":-2,"y":3.6,"v":-0.9},{"x":-1.6,"y":3.6,"v":-1.1},{"x":-1.2,"y":3.6,"v":-1.3},{"x":-0.8,"y":3.6,"v":-1.5},{"x":-0.4,"y":3.6,"v":-1.6},{"x":0,"y":3.6,"v":-1.7},{"x":0.4,"y":3.6,"v":-1.6},{"x":0.8,"y":3.6,"v":-1.5},{"x":1.2,"y":3.6,"v":-1.3},{"x":1.6,"y":3.6,"v":-1.1},{"x":2,"y":3.6,"v":-0.9},{"x":2.4,"y":3.6,"v":-0.7},{"x":2.8,"y":3.6,"v":-0.5},{"x":3.2,"y":3.6,"v":-0.4},{"x":3.6,"y":3.6,"v":-0.3},{"x":4,"y":3.6,"v":-0.2},
{"x":-4,"y":3.2,"v":-0.3},{"x":-3.6,"y":3.2,"v":-0.4},{"x":-3.2,"y":3.2,"v":-0.5},{"x":-2.8,"y":3.2,"v":-0.7},{"x":-2.4,"y":3.2,"v":-1},{"x":-2,"y":3.2,"v":-1.3},{"x":-1.6,"y":3.2,"v":-1.6},{"x":-1.2,"y":3.2,"v":-1.9},{"x":-0.8,"y":3.2,"v":-2.2},{"x":-0.4,"y":3.2,"v":-2.4},{"x":0,"y":3.2,"v":-2.4},{"x":0.4,"y":3.2,"v":-2.4},{"x":0.8,"y":3.2,"v":-2.2},{"x":1.2,"y":3.2,"v":-1.9},{"x":1.6,"y":3.2,"v":-1.6},{"x":2,"y":3.2,"v":-1.3},{"x":2.4,"y":3.2,"v":-1},{"x":2.8,"y":3.2,"v":-0.7},{"x":3.2,"y":3.2,"v":-0.5},{"x":3.6,"y":3.2,"v":-0.4},{"x":4,"y":3.2,"v":-0.3},
{"x":-4,"y":2.8,"v":-0.3},{"x":-3.6,"y":2.8,"v":-0.4},{"x":-3.2,"y":2.8,"v":-0.6},{"x":-2.8,"y":2.8,"v":-0.9},{"x":-2.4,"y":2.8,"v":-1.2},{"x":-2,"y":2.8,"v":-1.6},{"x":-1.6,"y":2.8,"v":-2},{"x":-1.2,"y":2.8,"v":-2.4},{"x":-0.8,"y":2.8,"v":-2.8},{"x":-0.4,"y":2.8,"v":-3},{"x":0,"y":2.8,"v":-3.1},{"x":0.4,"y":2.8,"v":-3},{"x":0.8,"y":2.8,"v":-2.8},{"x":1.2,"y":2.8,"v":-2.4},{"x":1.6,"y":2.8,"v":-2},{"x":2,"y":2.8,"v":-1.6},{"x":2.4,"y":2.8,"v":-1.2},{"x":2.8,"y":2.8,"v":-0.9},{"x":3.2,"y":2.8,"v":-0.6},{"x":3.6,"y":2.8,"v":-0.4},{"x":4,"y":2.8,"v":-0.3},
{"x":-4,"y":2.4,"v":-0.3},{"x":-3.6,"y":2.4,"v":-0.5},{"x":-3.2,"y":2.4,"v":-0.7},{"x":-2.8,"y":2.4,"v":-1},{"x":-2.4,"y":2.4,"v":-1.3},{"x":-2,"y":2.4,"v":-1.8},{"x":-1.6,"y":2.4,"v":-2.3},{"x":-1.2,"y":2.4,"v":-2.8},{"x":-0.8,"y":2.4,"v":-3.2},{"x":-0.4,"y":2.4,"v":-3.5},{"x":0,"y":2.4,"v":-3.6},{"x":0.4,"y":2.4,"v":-3.5},{"x":0.8,"y":2.4,"v":-3.2},{"x":1.2,"y":2.4,"v":-2.8},{"x":1.6,"y":2.4,"v":-2.3},{"x":2,"y":2.4,"v":-1.8},{"x":2.4,"y":2.4,"v":-1.3},{"x":2.8,"y":2.4,"v":-1},{"x":3.2,"y":2.4,"v":-0.7},{"x":3.6,"y":2.4,"v":-0.5},{"x":4,"y":2.4,"v":-0.3},
{"x":-4,"y":2,"v":-0.3},{"x":-3.6,"y":2,"v":-0.5},{"x":-3.2,"y":2,"v":-0.7},{"x":-2.8,"y":2,"v":-1},{"x":-2.4,"y":2,"v":-1.4},{"x":-2,"y":2,"v":-1.9},{"x":-1.6,"y":2,"v":-2.4},{"x":-1.2,"y":2,"v":-2.9},{"x":-0.8,"y":2,"v":-3.3},{"x":-0.4,"y":2,"v":-3.6},{"x":0,"y":2,"v":-3.7},{"x":0.4,"y":2,"v":-3.6},{"x":0.8,"y":2,"v":-3.3},{"x":1.2,"y":2,"v":-2.9},{"x":1.6,"y":2,"v":-2.4},{"x":2,"y":2,"v":-1.9},{"x":2.4,"y":2,"v":-1.4},{"x":2.8,"y":2,"v":-1},{"x":3.2,"y":2,"v":-0.7},{"x":3.6,"y":2,"v":-0.5},{"x":4,"y":2,"v":-0.3},
{"x":-4,"y":1.6,"v":-0.3},{"x":-3.6,"y":1.6,"v":-0.5},{"x":-3.2,"y":1.6,"v":-0.7},{"x":-2.8,"y":1.6,"v":-1},{"x":-2.4,"y":1.6,"v":-1.3},{"x":-2,"y":1.6,"v":-1.8},{"x":-1.6,"y":1.6,"v":-2.2},{"x":-1.2,"y":1.6,"v":-2.6},{"x":-0.8,"y":1.6,"v":-2.9},{"x":-0.4,"y":1.6,"v":-3.1},{"x":0,"y":1.6,"v":-3.2},{"x":0.4,"y":1.6,"v":-3.1},{"x":0.8,"y":1.6,"v":-2.9},{"x":1.2,"y":1.6,"v":-2.6},{"x":1.6,"y":1.6,"v":-2.2},{"x":2,"y":1.6,"v":-1.8},{"x":2.4,"y":1.6,"v":-1.3},{"x":2.8,"y":1.6,"v":-1},{"x":3.2,"y":1.6,"v":-0.7},{"x":3.6,"y":1.6,"v":-0.5},{"x":4,"y":1.6,"v":-0.3},
{"x":-4,"y":1.2,"v":-0.3},{"x":-3.6,"y":1.2,"v":-0.4},{"x":-3.2,"y":1.2,"v":-0.6},{"x":-2.8,"y":1.2,"v":-0.8},{"x":-2.4,"y":1.2,"v":-1.1},{"x":-2,"y":1.2,"v":-1.4},{"x":-1.6,"y":1.2,"v":-1.7},{"x":-1.2,"y":1.2,"v":-1.9},{"x":-0.8,"y":1.2,"v":-1.8},{"x":-0.4,"y":1.2,"v":-1.6},{"x":0,"y":1.2,"v":-1.5},{"x":0.4,"y":1.2,"v":-1.6},{"x":0.8,"y":1.2,"v":-1.8},{"x":1.2,"y":1.2,"v":-1.9},{"x":1.6,"y":1.2,"v":-1.7},{"x":2,"y":1.2,"v":-1.4},{"x":2.4,"y":1.2,"v":-1.1},{"x":2.8,"y":1.2,"v":-0.8},{"x":3.2,"y":1.2,"v":-0.6},{"x":3.6,"y":1.2,"v":-0.4},{"x":4,"y":1.2,"v":-0.3},
{"x":-4,"y":0.8,"v":-0.2},{"x":-3.6,"y":0.8,"v":-0.3},{"x":-3.2,"y":0.8,"v":-0.4},{"x":-2.8,"y":0.8,"v":-0.6},{"x":-2.4,"y":0.8,"v":-0.7},{"x":-2,"y":0.8,"v":-0.6},{"x":-1.6,"y":0.8,"v":0},{"x":-1.2,"y":0.8,"v":1.4},{"x":-0.8,"y":0.8,"v":3.6},{"x":-0.4,"y":0.8,"v":5.5},{"x":0,"y":0.8,"v":6},{"x":0.4,"y":0.8,"v":5.5},{"x":0.8,"y":0.8,"v":3.6},{"x":1.2,"y":0.8,"v":1.4},{"x":1.6,"y":0.8,"v":0},{"x":2,"y":0.8,"v":-0.6},{"x":2.4,"y":0.8,"v":-0.7},{"x":2.8,"y":0.8,"v":-0.6},{"x":3.2,"y":0.8,"v":-0.4},{"x":3.6,"y":0.8,"v":-0.3},{"x":4,"y":0.8,"v":-0.2},
{"x":-4,"y":0.4,"v":-0.2},{"x":-3.6,"y":0.4,"v":-0.2},{"x":-3.2,"y":0.4,"v":-0.2},{"x":-2.8,"y":0.4,"v":-0.2},{"x":-2.4,"y":0.4,"v":0},{"x":-2,"y":0.4,"v":0.7},{"x":-1.6,"y":0.4,"v":2.6},{"x":-1.2,"y":0.4,"v":6},{"x":-0.8,"y":0.4,"v":10.5},{"x":-0.4,"y":0.4,"v":14.5},{"x":0,"y":0.4,"v":15.5},{"x":0.4,"y":0.4,"v":14.5},{"x":0.8,"y":0.4,"v":10.5},{"x":1.2,"y":0.4,"v":6},{"x":1.6,"y":0.4,"v":2.6},{"x":2,"y":0.4,"v":0.7},{"x":2.4,"y":0.4,"v":0},{"x":2.8,"y":0.4,"v":-0.2},{"x":3.2,"y":0.4,"v":-0.2},{"x":3.6,"y":0.4,"v":-0.2},{"x":4,"y":0.4,"v":-0.2},
{"x":-4,"y":0,"v":0},{"x":-3.6,"y":0,"v":0},{"x":-3.2,"y":0,"v":0.1},{"x":-2.8,"y":0,"v":0.4},{"x":-2.4,"y":0,"v":0.9},{"x":-2,"y":0,"v":2.2},{"x":-1.6,"y":0,"v":5.2},{"x":-1.2,"y":0,"v":10.5},{"x":-0.8,"y":0,"v":17.5},{"x":-0.4,"y":0,"v":22.5},{"x":0,"y":0,"v":24.5},{"x":0.4,"y":0,"v":22.5},{"x":0.8,"y":0,"v":17.5},{"x":1.2,"y":0,"v":10.5},{"x":1.6,"y":0,"v":5.2},{"x":2,"y":0,"v":2.2},{"x":2.4,"y":0,"v":0.9},{"x":2.8,"y":0,"v":0.4},{"x":3.2,"y":0,"v":0.1},{"x":3.6,"y":0,"v":0},{"x":4,"y":0,"v":0},
{"x":-4,"y":-0.4,"v":0.1},{"x":-3.6,"y":-0.4,"v":0.2},{"x":-3.2,"y":-0.4,"v":0.5},{"x":-2.8,"y":-0.4,"v":1},{"x":-2.4,"y":-0.4,"v":2.2},{"x":-2,"y":-0.4,"v":3.6},{"x":-1.6,"y":-0.4,"v":6.5},{"x":-1.2,"y":-0.4,"v":12.5},{"x":-0.8,"y":-0.4,"v":20},{"x":-0.4,"y":-0.4,"v":26.5},{"x":0,"y":-0.4,"v":29.4},{"x":0.4,"y":-0.4,"v":26.5},{"x":0.8,"y":-0.4,"v":20},{"x":1.2,"y":-0.4,"v":12.5},{"x":1.6,"y":-0.4,"v":6.5},{"x":2,"y":-0.4,"v":3.6},{"x":2.4,"y":-0.4,"v":2.2},{"x":2.8,"y":-0.4,"v":1},{"x":3.2,"y":-0.4,"v":0.5},{"x":3.6,"y":-0.4,"v":0.2},{"x":4,"y":-0.4,"v":0.1},
{"x":-4,"y":-0.8,"v":0.1},{"x":-3.6,"y":-0.8,"v":0.3},{"x":-3.2,"y":-0.8,"v":0.6},{"x":-2.8,"y":-0.8,"v":1.2},{"x":-2.4,"y":-0.8,"v":2.2},{"x":-2,"y":-0.8,"v":3.8},{"x":-1.6,"y":-0.8,"v":7},{"x":-1.2,"y":-0.8,"v":12.5},{"x":-0.8,"y":-0.8,"v":19.5},{"x":-0.4,"y":-0.8,"v":25},{"x":0,"y":-0.8,"v":27},{"x":0.4,"y":-0.8,"v":25},{"x":0.8,"y":-0.8,"v":19.5},{"x":1.2,"y":-0.8,"v":12.5},{"x":1.6,"y":-0.8,"v":7},{"x":2,"y":-0.8,"v":3.8},{"x":2.4,"y":-0.8,"v":2.2},{"x":2.8,"y":-0.8,"v":1.2},{"x":3.2,"y":-0.8,"v":0.6},{"x":3.6,"y":-0.8,"v":0.3},{"x":4,"y":-0.8,"v":0.1},
{"x":-4,"y":-1.2,"v":0.2},{"x":-3.6,"y":-1.2,"v":0.4},{"x":-3.2,"y":-1.2,"v":0.8},{"x":-2.8,"y":-1.2,"v":1.4},{"x":-2.4,"y":-1.2,"v":2.4},{"x":-2,"y":-1.2,"v":3.7},{"x":-1.6,"y":-1.2,"v":6.3},{"x":-1.2,"y":-1.2,"v":10.5},{"x":-0.8,"y":-1.2,"v":16},{"x":-0.4,"y":-1.2,"v":20.5},{"x":0,"y":-1.2,"v":22},{"x":0.4,"y":-1.2,"v":20.5},{"x":0.8,"y":-1.2,"v":16},{"x":1.2,"y":-1.2,"v":10.5},{"x":1.6,"y":-1.2,"v":6.3},{"x":2,"y":-1.2,"v":3.7},{"x":2.4,"y":-1.2,"v":2.4},{"x":2.8,"y":-1.2,"v":1.4},{"x":3.2,"y":-1.2,"v":0.8},{"x":3.6,"y":-1.2,"v":0.4},{"x":4,"y":-1.2,"v":0.2},
{"x":-4,"y":-1.6,"v":0.3},{"x":-3.6,"y":-1.6,"v":0.5},{"x":-3.2,"y":-1.6,"v":0.9},{"x":-2.8,"y":-1.6,"v":1.5},{"x":-2.4,"y":-1.6,"v":2.4},{"x":-2,"y":-1.6,"v":3.4},{"x":-1.6,"y":-1.6,"v":5.2},{"x":-1.2,"y":-1.6,"v":8},{"x":-0.8,"y":-1.6,"v":11.5},{"x":-0.4,"y":-1.6,"v":14.5},{"x":0,"y":-1.6,"v":15.5},{"x":0.4,"y":-1.6,"v":14.5},{"x":0.8,"y":-1.6,"v":11.5},{"x":1.2,"y":-1.6,"v":8},{"x":1.6,"y":-1.6,"v":5.2},{"x":2,"y":-1.6,"v":3.4},{"x":2.4,"y":-1.6,"v":2.4},{"x":2.8,"y":-1.6,"v":1.5},{"x":3.2,"y":-1.6,"v":0.9},{"x":3.6,"y":-1.6,"v":0.5},{"x":4,"y":-1.6,"v":0.3},
{"x":-4,"y":-2,"v":0.3},{"x":-3.6,"y":-2,"v":0.6},{"x":-3.2,"y":-2,"v":1},{"x":-2.8,"y":-2,"v":1.5},{"x":-2.4,"y":-2,"v":2.2},{"x":-2,"y":-2,"v":3},{"x":-1.6,"y":-2,"v":4.3},{"x":-1.2,"y":-2,"v":6},{"x":-0.8,"y":-2,"v":8},{"x":-0.4,"y":-2,"v":9.5},{"x":0,"y":-2,"v":10},{"x":0.4,"y":-2,"v":9.5},{"x":0.8,"y":-2,"v":8},{"x":1.2,"y":-2,"v":6},{"x":1.6,"y":-2,"v":4.3},{"x":2,"y":-2,"v":3},{"x":2.4,"y":-2,"v":2.2},{"x":2.8,"y":-2,"v":1.5},{"x":3.2,"y":-2,"v":1},{"x":3.6,"y":-2,"v":0.6},{"x":4,"y":-2,"v":0.3},
{"x":-4,"y":-2.4,"v":0.3},{"x":-3.6,"y":-2.4,"v":0.6},{"x":-3.2,"y":-2.4,"v":0.9},{"x":-2.8,"y":-2.4,"v":1.4},{"x":-2.4,"y":-2.4,"v":1.9},{"x":-2,"y":-2.4,"v":2.6},{"x":-1.6,"y":-2.4,"v":3.4},{"x":-1.2,"y":-2.4,"v":4.5},{"x":-0.8,"y":-2.4,"v":5.5},{"x":-0.4,"y":-2.4,"v":6.2},{"x":0,"y":-2.4,"v":6.5},{"x":0.4,"y":-2.4,"v":6.2},{"x":0.8,"y":-2.4,"v":5.5},{"x":1.2,"y":-2.4,"v":4.5},{"x":1.6,"y":-2.4,"v":3.4},{"x":2,"y":-2.4,"v":2.6},{"x":2.4,"y":-2.4,"v":1.9},{"x":2.8,"y":-2.4,"v":1.4},{"x":3.2,"y":-2.4,"v":0.9},{"x":3.6,"y":-2.4,"v":0.6},{"x":4,"y":-2.4,"v":0.3},
{"x":-4,"y":-2.8,"v":0.3},{"x":-3.6,"y":-2.8,"v":0.5},{"x":-3.2,"y":-2.8,"v":0.7},{"x":-2.8,"y":-2.8,"v":1.1},{"x":-2.4,"y":-2.8,"v":1.5},{"x":-2,"y":-2.8,"v":2},{"x":-1.6,"y":-2.8,"v":2.5},{"x":-1.2,"y":-2.8,"v":3.1},{"x":-0.8,"y":-2.8,"v":3.7},{"x":-0.4,"y":-2.8,"v":4.2},{"x":0,"y":-2.8,"v":4.4},{"x":0.4,"y":-2.8,"v":4.2},{"x":0.8,"y":-2.8,"v":3.7},{"x":1.2,"y":-2.8,"v":3.1},{"x":1.6,"y":-2.8,"v":2.5},{"x":2,"y":-2.8,"v":2},{"x":2.4,"y":-2.8,"v":1.5},{"x":2.8,"y":-2.8,"v":1.1},{"x":3.2,"y":-2.8,"v":0.7},{"x":3.6,"y":-2.8,"v":0.5},{"x":4,"y":-2.8,"v":0.3},
{"x":-4,"y":-3.2,"v":0.3},{"x":-3.6,"y":-3.2,"v":0.5},{"x":-3.2,"y":-3.2,"v":0.7},{"x":-2.8,"y":-3.2,"v":1},{"x":-2.4,"y":-3.2,"v":1.3},{"x":-2,"y":-3.2,"v":1.7},{"x":-1.6,"y":-3.2,"v":2.1},{"x":-1.2,"y":-3.2,"v":2.4},{"x":-0.8,"y":-3.2,"v":2.8},{"x":-0.4,"y":-3.2,"v":3},{"x":0,"y":-3.2,"v":3.2},{"x":0.4,"y":-3.2,"v":3},{"x":0.8,"y":-3.2,"v":2.8},{"x":1.2,"y":-3.2,"v":2.4},{"x":1.6,"y":-3.2,"v":2.1},{"x":2,"y":-3.2,"v":1.7},{"x":2.4,"y":-3.2,"v":1.3},{"x":2.8,"y":-3.2,"v":1},{"x":3.2,"y":-3.2,"v":0.7},{"x":3.6,"y":-3.2,"v":0.5},{"x":4,"y":-3.2,"v":0.3},
{"x":-4,"y":-3.6,"v":0.3},{"x":-3.6,"y":-3.6,"v":0.4},{"x":-3.2,"y":-3.6,"v":0.6},{"x":-2.8,"y":-3.6,"v":0.8},{"x":-2.4,"y":-3.6,"v":1.1},{"x":-2,"y":-3.6,"v":1.4},{"x":-1.6,"y":-3.6,"v":1.7},{"x":-1.2,"y":-3.6,"v":1.9},{"x":-0.8,"y":-3.6,"v":2.1},{"x":-0.4,"y":-3.6,"v":2.3},{"x":0,"y":-3.6,"v":2.4},{"x":0.4,"y":-3.6,"v":2.3},{"x":0.8,"y":-3.6,"v":2.1},{"x":1.2,"y":-3.6,"v":1.9},{"x":1.6,"y":-3.6,"v":1.7},{"x":2,"y":-3.6,"v":1.4},{"x":2.4,"y":-3.6,"v":1.1},{"x":2.8,"y":-3.6,"v":0.8},{"x":3.2,"y":-3.6,"v":0.6},{"x":3.6,"y":-3.6,"v":0.4},{"x":4,"y":-3.6,"v":0.3},
{"x":-4,"y":-4,"v":0.3},{"x":-3.6,"y":-4,"v":0.4},{"x":-3.2,"y":-4,"v":0.5},{"x":-2.8,"y":-4,"v":0.7},{"x":-2.4,"y":-4,"v":0.9},{"x":-2,"y":-4,"v":1.1},{"x":-1.6,"y":-4,"v":1.3},{"x":-1.2,"y":-4,"v":1.5},{"x":-0.8,"y":-4,"v":1.6},{"x":-0.4,"y":-4,"v":1.7},{"x":0,"y":-4,"v":1.8},{"x":0.4,"y":-4,"v":1.7},{"x":0.8,"y":-4,"v":1.6},{"x":1.2,"y":-4,"v":1.5},{"x":1.6,"y":-4,"v":1.3},{"x":2,"y":-4,"v":1.1},{"x":2.4,"y":-4,"v":0.9},{"x":2.8,"y":-4,"v":0.7},{"x":3.2,"y":-4,"v":0.5},{"x":3.6,"y":-4,"v":0.4},{"x":4,"y":-4,"v":0.3}
],"frame":[{"x":0,"y":0}]},"hconcat":[
{"title":{"text":"B","dx":-6},"width":254,"height":262,"layer":[{"data":{"name":"bx"},"mark":{"type":"rect","width":13.2,"height":13.6,"clip":true},"encoding":{"x":{"field":"x","type":"quantitative","scale":{"domain":[-4,4],"nice":false,"zero":false},"axis":{"values":[-4,-2,0,2,4],"title":"X [m]","labelPadding":16,"titlePadding":7,"labelFlush":false,"labelExpr":"''+datum.value"}},"y":{"field":"y","type":"quantitative","scale":{"domain":[-4,4],"nice":false,"zero":false},"axis":{"values":[-4,-2,0,2,4],"title":"Y [m]","labelPadding":14,"titlePadding":7,"labelFlush":false,"labelExpr":"''+datum.value"}},"color":{"field":"v","type":"quantitative","scale":{"domain":[-12,-9,-6,-3,0,3,6,9,12],"range":["#00007f","#0000ff","#007fff","#00ffff","#7fff7f","#ffff00","#ff7f00","#ff0000","#7f0000"]},"legend":{"orient":"none","legendX":274,"legendY":-34,"title":"[nT]","titlePadding":14,"gradientLength":262,"gradientThickness":27,"gradientStrokeColor":"#6e6e6e","values":[-10,-5,0,5,10],"labelOffset":6,"labelOverlap":false,"labelExpr":"''+datum.value"}}}},{"data":{"name":"frame"},"mark":{"type":"point","opacity":0},"encoding":{"x":{"field":"x","type":"quantitative","scale":{"domain":[-4,4],"nice":false,"zero":false},"axis":{"orient":"top","values":[-4,-2,0,2,4],"labels":false,"title":"x","titleX":138,"titleY":-14,"titleFontSize":15,"titleFontStyle":"italic","titleColor":"#333333"}},"y":{"field":"y","type":"quantitative","scale":{"domain":[-4,4],"nice":false,"zero":false},"axis":{"orient":"right","values":[-4,-2,0,2,4],"labels":false,"title":null}}}}],"resolve":{"axis":{"x":"independent","y":"independent"}}},
{"title":{"text":"B","dx":-6},"width":254,"height":262,"layer":[{"data":{"name":"by"},"mark":{"type":"rect","width":13.2,"height":13.6,"clip":true},"encoding":{"x":{"field":"x","type":"quantitative","scale":{"domain":[-4,4],"nice":false,"zero":false},"axis":{"values":[-4,-2,0,2,4],"title":"X [m]","labelPadding":16,"titlePadding":7,"labelFlush":false,"labelExpr":"''+datum.value"}},"y":{"field":"y","type":"quantitative","scale":{"domain":[-4,4],"nice":false,"zero":false},"axis":{"values":[-4,-2,0,2,4],"title":"Y [m]","labelPadding":14,"titlePadding":7,"labelFlush":false,"labelExpr":"''+datum.value"}},"color":{"field":"v","type":"quantitative","scale":{"domain":[-17.5,-13.125,-8.75,-4.375,0,4.375,8.75,13.125,17.5],"range":["#00007f","#0000ff","#007fff","#00ffff","#7fff7f","#ffff00","#ff7f00","#ff0000","#7f0000"]},"legend":{"orient":"none","legendX":274,"legendY":-34,"title":"[nT]","titlePadding":14,"gradientLength":262,"gradientThickness":27,"gradientStrokeColor":"#6e6e6e","values":[-15,-10,-5,0,5,10,15],"labelOffset":6,"labelOverlap":false,"labelExpr":"''+datum.value"}}}},{"data":{"name":"frame"},"mark":{"type":"point","opacity":0},"encoding":{"x":{"field":"x","type":"quantitative","scale":{"domain":[-4,4],"nice":false,"zero":false},"axis":{"orient":"top","values":[-4,-2,0,2,4],"labels":false,"title":"y","titleX":138,"titleY":-14,"titleFontSize":15,"titleFontStyle":"italic","titleColor":"#333333"}},"y":{"field":"y","type":"quantitative","scale":{"domain":[-4,4],"nice":false,"zero":false},"axis":{"orient":"right","values":[-4,-2,0,2,4],"labels":false,"title":null}}}}],"resolve":{"axis":{"x":"independent","y":"independent"}}},
{"title":{"text":"B","dx":-6},"width":254,"height":262,"layer":[{"data":{"name":"bz"},"mark":{"type":"rect","width":13.2,"height":13.6,"clip":true},"encoding":{"x":{"field":"x","type":"quantitative","scale":{"domain":[-4,4],"nice":false,"zero":false},"axis":{"values":[-4,-2,0,2,4],"title":"X [m]","labelPadding":16,"titlePadding":7,"labelFlush":false,"labelExpr":"''+datum.value"}},"y":{"field":"y","type":"quantitative","scale":{"domain":[-4,4],"nice":false,"zero":false},"axis":{"values":[-4,-2,0,2,4],"title":"Y [m]","labelPadding":14,"titlePadding":7,"labelFlush":false,"labelExpr":"''+datum.value"}},"color":{"field":"v","type":"quantitative","scale":{"domain":[-29.4,-22.05,-14.7,-7.35,0,7.35,14.7,22.05,29.4],"range":["#00007f","#0000ff","#007fff","#00ffff","#7fff7f","#ffff00","#ff7f00","#ff0000","#7f0000"]},"legend":{"orient":"none","legendX":274,"legendY":-34,"title":"[nT]","titlePadding":14,"gradientLength":262,"gradientThickness":27,"gradientStrokeColor":"#6e6e6e","values":[-20,-10,0,10,20],"labelOffset":6,"labelOverlap":false,"labelExpr":"''+datum.value"}}}},{"data":{"name":"frame"},"mark":{"type":"point","opacity":0},"encoding":{"x":{"field":"x","type":"quantitative","scale":{"domain":[-4,4],"nice":false,"zero":false},"axis":{"orient":"top","values":[-4,-2,0,2,4],"labels":false,"title":"z","titleX":138,"titleY":-14,"titleFontSize":15,"titleFontStyle":"italic","titleColor":"#333333"}},"y":{"field":"y","type":"quantitative","scale":{"domain":[-4,4],"nice":false,"zero":false},"axis":{"orient":"right","values":[-4,-2,0,2,4],"labels":false,"title":null}}}}],"resolve":{"axis":{"x":"independent","y":"independent"}}}
]}
